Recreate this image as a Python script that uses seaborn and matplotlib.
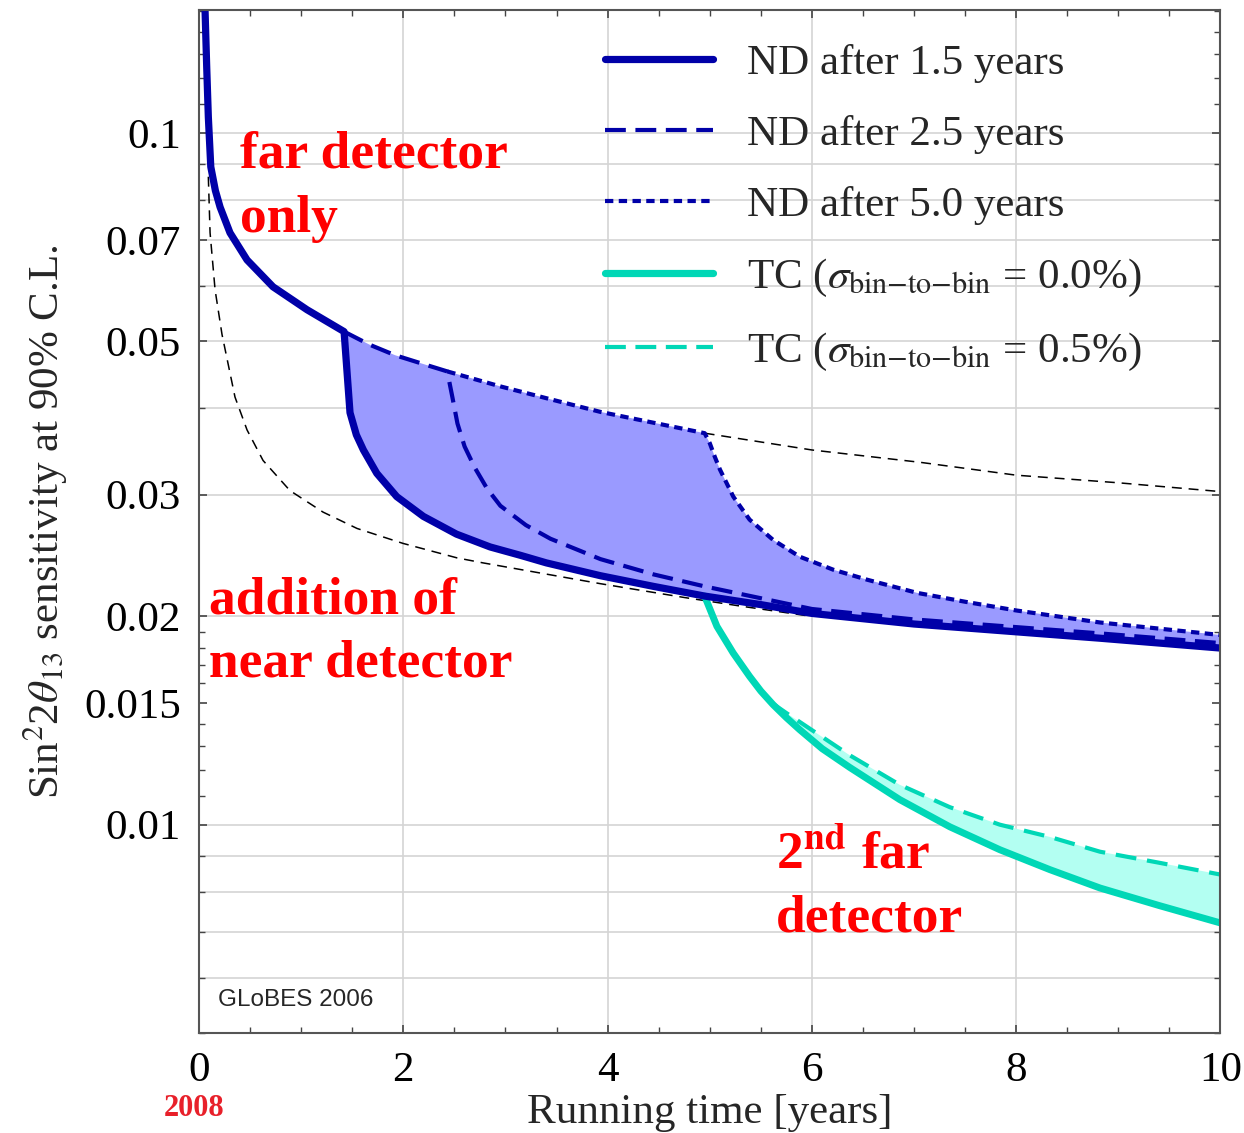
import numpy as np
import pandas as pd
import matplotlib
matplotlib.use("Agg")
import matplotlib.pyplot as plt
import seaborn as sns
from matplotlib.lines import Line2D
from matplotlib.ticker import FixedLocator, FixedFormatter, NullFormatter

# ---------------- data ----------------
# far detector only (full curve)
far_x = [0.059, 0.075, 0.091, 0.115, 0.16, 0.206, 0.303, 0.47, 0.724, 1.057, 1.42,
         1.67, 1.92, 2.18, 2.43, 2.95, 3.44, 3.93, 4.45, 4.95, 6.0, 7.06, 8.0, 9.0, 10.0]
far_y = [0.150, 0.1246, 0.1054, 0.0893, 0.0825, 0.0781, 0.0717, 0.0655, 0.0599, 0.0555, 0.0516,
         0.0494, 0.0477, 0.0464, 0.0452, 0.0430, 0.0412, 0.0395, 0.0381, 0.0368,
         0.0348, 0.0334, 0.0320, 0.0312, 0.0303]

# ND added after 1.5 years
nd15_x = [1.42, 1.478, 1.54, 1.609, 1.74, 1.935, 2.196, 2.52, 2.85, 3.15, 3.4, 3.93, 4.45,
          4.95, 5.5, 6.0, 7.0, 8.0, 8.82, 10.0]
nd15_y = [0.0516, 0.0394, 0.0366, 0.0348, 0.0322, 0.0298, 0.0279, 0.0263, 0.0252, 0.0245,
          0.0239, 0.0229, 0.0221, 0.0214, 0.0208, 0.0202, 0.0195, 0.0190, 0.0186, 0.0180]

# ND added after 2.5 years
nd25_x = [2.43, 2.48, 2.53, 2.6, 2.7, 2.82, 2.95, 3.2, 3.44, 3.93, 4.45, 4.95, 6.0, 7.0,
          8.0, 8.82, 10.0]
nd25_y = [0.0452, 0.0415, 0.0380, 0.0352, 0.0328, 0.0306, 0.0289, 0.0271, 0.0259, 0.0242,
          0.0230, 0.0221, 0.0205, 0.0198, 0.0193, 0.0189, 0.0183]

# ND added after 5.0 years
nd50_x = [4.95, 5.0, 5.05, 5.1, 5.23, 5.39, 5.62, 5.88, 6.21, 6.54, 7.03, 7.5, 8.0, 8.82, 10.0]
nd50_y = [0.0368, 0.0356, 0.0340, 0.0326, 0.0298, 0.0276, 0.0258, 0.0244, 0.02336, 0.0226,
          0.02163, 0.0210, 0.0204, 0.0196, 0.0188]

# reference: near detector from the start (thin dashed)
ref_x = [0.091, 0.108, 0.157, 0.225, 0.352, 0.47, 0.627, 0.89, 1.214, 1.547, 1.997, 2.526,
         2.78, 3.93, 4.75, 5.3, 6.0]
ref_y = [0.0864, 0.0717, 0.0593, 0.0511, 0.0415, 0.0372, 0.0336, 0.0304, 0.0283, 0.0268,
         0.0255, 0.0243, 0.0239, 0.0223, 0.0213, 0.0207, 0.0200]

# second far detector (TC)
tc00_x = [4.95, 5.07, 5.23, 5.39, 5.5, 5.62, 5.75, 5.88, 6.1, 6.37, 6.86, 7.35, 7.84, 8.33,
          8.82, 9.4, 10.0]
tc00_y = [0.0214, 0.01935, 0.0177, 0.01638, 0.01560, 0.01491, 0.01428, 0.01372, 0.01288,
          0.0121, 0.01087, 0.00993, 0.0092, 0.00861, 0.0081, 0.00764, 0.00721]
tc05_x = [4.95, 5.07, 5.23, 5.39, 5.5, 5.62, 5.75, 6.0, 6.37, 6.86, 7.35, 7.84, 8.33, 8.82,
          9.4, 10.0]
tc05_y = [0.0214, 0.01935, 0.0177, 0.01640, 0.01562, 0.01495, 0.0145, 0.0137, 0.0126, 0.01142,
          0.0106, 0.0100, 0.0096, 0.00914, 0.00881, 0.00847]

legend_labels = ["ND after 1.5 years", "ND after 2.5 years", "ND after 5.0 years",
                 r"TC ($\sigma_{\mathrm{bin{-}to{-}bin}}$ = 0.0%)",
                 r"TC ($\sigma_{\mathrm{bin{-}to{-}bin}}$ = 0.5%)"]

ytick_vals = [0.01, 0.015, 0.02, 0.03, 0.05, 0.07, 0.1]
ytick_labels = ["0.01", "0.015", "0.02", "0.03", "0.05", "0.07", "0.1"]
ytick_minor = [0.005, 0.006, 0.007, 0.008, 0.009, 0.011, 0.012, 0.013, 0.014, 0.016, 0.017,
               0.018, 0.019, 0.04, 0.06, 0.08, 0.09, 0.11, 0.12, 0.13, 0.14, 0.15]
ygrid = [0.006, 0.007, 0.008, 0.009, 0.01, 0.02, 0.03, 0.04, 0.05, 0.06, 0.07, 0.08, 0.09, 0.1]
xticks = [0, 2, 4, 6, 8, 10]
xgrid = [2, 4, 6, 8]

# ---------------- style ----------------
sns.set_theme(style="ticks")
plt.rcParams['font.family'] = ['Liberation Serif', 'DejaVu Serif']
plt.rcParams['mathtext.fontset'] = 'stix'

NAVY = "#0000a8"
BLUEFILL = "#9a9aff"
TURQ = "#00d7b6"
TURQFILL = "#b3fff2"
RED = "#ff0000"

fig = plt.figure(figsize=(12.44, 11.33), dpi=100)
ax = fig.add_axes([0.1600, 0.0883, 0.8211, 0.9029])
ax.set_yscale("log")

far_x_a = np.array(far_x); far_y_a = np.array(far_y)
k15, k25, k50 = 1.42, 2.43, 4.95

# fills
sel = (far_x_a >= k15) & (far_x_a <= k50)
up_x = np.concatenate([far_x_a[sel], nd50_x[1:]])
up_y = np.concatenate([far_y_a[sel], nd50_y[1:]])
ax.fill(np.concatenate([up_x, nd15_x[::-1]]), np.concatenate([up_y, nd15_y[::-1]]),
        color=BLUEFILL, lw=0, zorder=1)
ax.fill(np.concatenate([tc05_x, tc00_x[::-1]]), np.concatenate([tc05_y, tc00_y[::-1]]),
        color=TURQFILL, lw=0, zorder=1)

# grid
for g in ygrid:
    ax.axhline(g, color="#d4d4d4", lw=1.2, zorder=0.5)
for g in xgrid:
    ax.axvline(g, color="#d4d4d4", lw=1.2, zorder=0.5)

def line(x, y, **kw):
    df = pd.DataFrame({"x": x, "y": y})
    sns.lineplot(data=df, x="x", y="y", ax=ax, estimator=None, sort=False, legend=False, **kw)

# thin black dashed references
m = far_x_a >= k50
line(far_x_a[m], far_y_a[m], color="black", lw=1.1, linestyle=(0, (6.5, 4.5)), zorder=2)
line(ref_x, ref_y, color="black", lw=1.1, linestyle=(0, (6.5, 4.5)), zorder=2)

# TC curves
line(tc05_x, tc05_y, color=TURQ, lw=3.0, linestyle=(0, (5, 2.6)), zorder=2.5)
line(tc00_x, tc00_y, color=TURQ, lw=5.0, zorder=2.6)

# ND curves
m = (far_x_a >= k25) & (far_x_a <= k50)
line(list(far_x_a[m]) + nd50_x[1:], list(far_y_a[m]) + nd50_y[1:],
     color=NAVY, lw=3.0, linestyle=(0, (2.0, 1.3)), zorder=3)
m = (far_x_a >= k15) & (far_x_a <= k25)
line(list(far_x_a[m]) + nd25_x[1:], list(far_y_a[m]) + nd25_y[1:],
     color=NAVY, lw=3.0, linestyle=(0, (5, 2.3)), zorder=3)
m = far_x_a <= k15
line(list(far_x_a[m]) + nd15_x[1:], list(far_y_a[m]) + nd15_y[1:],
     color=NAVY, lw=5.2, zorder=3.5)

# axes
ax.set_xlim(0, 10)
ax.set_ylim(0.005, 0.1505)
ax.xaxis.set_major_locator(FixedLocator(xticks))
ax.xaxis.set_minor_locator(FixedLocator(np.arange(0, 10.01, 0.5)))
ax.yaxis.set_major_locator(FixedLocator(ytick_vals))
ax.yaxis.set_major_formatter(FixedFormatter(ytick_labels))
ax.yaxis.set_minor_locator(FixedLocator(ytick_minor))
ax.yaxis.set_minor_formatter(NullFormatter())
ax.tick_params(which="both", direction="in", top=True, right=True, colors="#444444",
               labelcolor="black", labelsize=31, pad=13)
ax.tick_params(which="major", length=6, width=1.2)
ax.tick_params(which="minor", length=4, width=1.0)
for s in ax.spines.values():
    s.set_color("#555555")
    s.set_linewidth(1.5)
    s.set_zorder(5)

ax.set_xlabel("Running time [years]", fontsize=31, labelpad=3)
ax.set_ylabel(r"Sin$^2$2$\theta_{13}$ sensitivity at 90% C.L.", fontsize=31, labelpad=10)

# annotations
bold = dict(color=RED, fontsize=38.5, fontweight="bold", va="baseline", ha="left", zorder=6)
ax.text(0.40, 0.089, "far detector", **bold)
ax.text(0.40, 0.0719, "only", **bold)
ax.text(0.098, 0.0202, "addition of", **bold)
ax.text(0.098, 0.01637, "near detector", **bold)
ax.text(5.65, 0.00867, r"2$^{\mathbf{nd}}$ far", **bold)
ax.text(5.65, 0.0070, "detector", **bold)
ax.text(0.0186, 0.0323, "GLoBES 2006", transform=ax.transAxes, fontsize=17.5,
        family=["Liberation Sans", "DejaVu Sans"], va="center", ha="left")
ax.text(-0.05, -0.0735, "2008", transform=ax.get_xaxis_transform(), color="#e8202a",
        fontsize=22, fontweight="bold", ha="center", va="center")

# legend
handles = [
    Line2D([], [], color=NAVY, lw=5.2, solid_capstyle="round"),
    Line2D([], [], color=NAVY, lw=3.0, linestyle=(0, (5, 2.3))),
    Line2D([], [], color=NAVY, lw=3.0, linestyle=(0, (2.0, 1.3))),
    Line2D([], [], color=TURQ, lw=5.2, solid_capstyle="round"),
    Line2D([], [], color=TURQ, lw=3.0, linestyle=(0, (5, 2.3))),
]
leg = ax.legend(handles, legend_labels, loc="upper left", bbox_to_anchor=(0.3975, 0.9665),
                frameon=False, fontsize=31, handlelength=2.5, handletextpad=0.8,
                labelspacing=0.74, borderpad=0, borderaxespad=0)
leg.set_zorder(7)

fig.savefig("out.png", dpi=100)
